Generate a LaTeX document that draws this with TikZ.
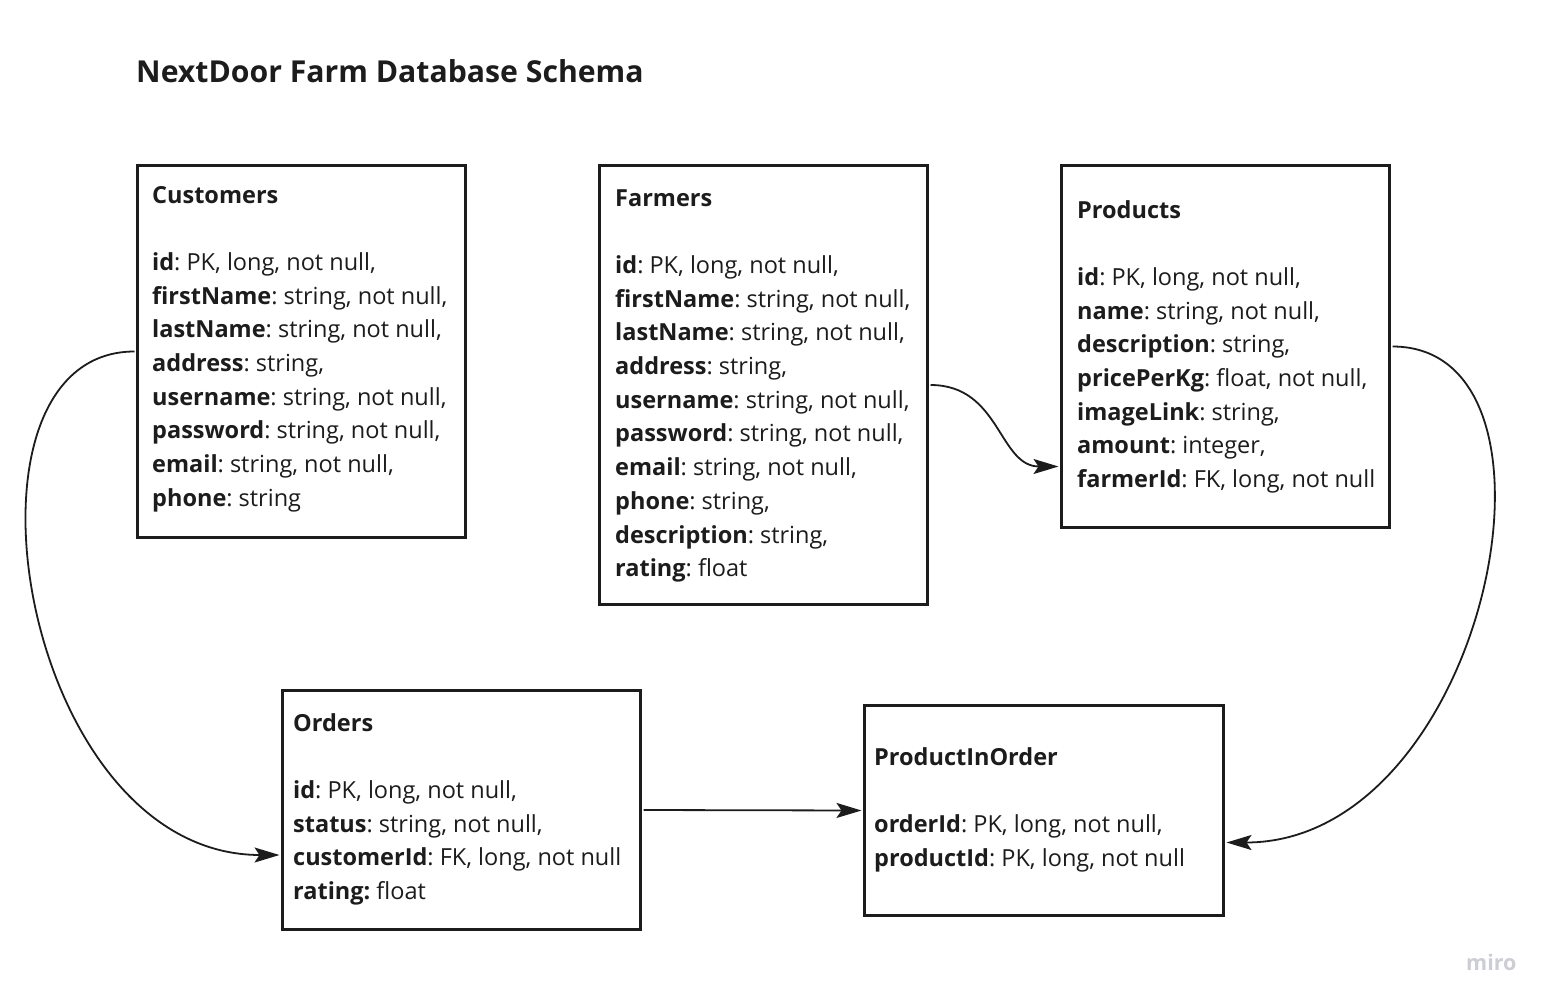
\documentclass[tikz,border=0pt]{standalone}
\usepackage{fontspec}
\setmainfont{Open Sans}
\usetikzlibrary{arrows.meta}
\definecolor{ink}{HTML}{1C1C1C}
\definecolor{mirogray}{HTML}{CDCDD6}
\frenchspacing
\tikzset{
  tablebox/.style={draw=ink, line width=3pt, inner sep=0pt, outer sep=0pt, anchor=north west},
  tabletext/.style={anchor=base west, inner sep=0pt, text=ink, font=\fontsize{23.5}{33.7}\selectfont},
  link/.style={draw=ink, line width=1.8pt, -{Stealth[length=25pt,width=15pt,inset=5pt]}}
}
\newcommand{\fld}[2]{\hbox{\textbf{#1}: #2}}
\newcommand{\rowsbox}[1]{\vtop{\baselineskip=33.7pt\lineskiplimit=-100pt #1}}
\begin{document}
\begin{tikzpicture}[x=1pt,y=-1pt]
\useasboundingbox (0,0) rectangle (1552,1006);
\fill[white] (0,0) rectangle (1552,1006);

\node[anchor=base west, inner sep=0pt, text=ink, font=\fontsize{30.2}{36}\selectfont\bfseries] (title) at (136,83) {NextDoor Farm Database Schema};

% boxes
\node[tablebox, minimum width=328pt, minimum height=372pt] (cust) at (137.5,165.5) {};
\node[tablebox, minimum width=328pt, minimum height=439pt] (farm) at (599.5,165.5) {};
\node[tablebox, minimum width=328pt, minimum height=362pt] (prod) at (1061.5,165.5) {};
\node[tablebox, minimum width=358pt, minimum height=239pt] (ords) at (282.5,690.5) {};
\node[tablebox, minimum width=359pt, minimum height=210pt] (pio) at (864.5,705.5) {};

% texts
\node[tabletext] (custtxt) at (152,203) {\rowsbox{%
\hbox{\textbf{Customers}}\hbox{}%
\fld{id}{PK, long, not null,}%
\fld{firstName}{string, not null,}%
\fld{lastName}{string, not null,}%
\fld{address}{string,}%
\fld{username}{string, not null,}%
\fld{password}{string, not null,}%
\fld{email}{string, not null,}%
\fld{phone}{string}}};

\node[tabletext] (farmtxt) at (615,206) {\rowsbox{%
\hbox{\textbf{Farmers}}\hbox{}%
\fld{id}{PK, long, not null,}%
\fld{firstName}{string, not null,}%
\fld{lastName}{string, not null,}%
\fld{address}{string,}%
\fld{username}{string, not null,}%
\fld{password}{string, not null,}%
\fld{email}{string, not null,}%
\fld{phone}{string,}%
\fld{description}{string,}%
\fld{rating}{float}}};

\node[tabletext] (prodtxt) at (1077,218) {\rowsbox{%
\hbox{\textbf{Products}}\hbox{}%
\fld{id}{PK, long, not null,}%
\fld{name}{string, not null,}%
\fld{description}{string,}%
\fld{pricePerKg}{float, not null,}%
\fld{imageLink}{string,}%
\fld{amount}{integer,}%
\fld{farmerId}{FK, long, not null}}};

\node[tabletext] (ordstxt) at (293,731) {\rowsbox{%
\hbox{\textbf{Orders}}\hbox{}%
\fld{id}{PK, long, not null,}%
\fld{status}{string, not null,}%
\fld{customerId}{FK, long, not null}%
\hbox{\textbf{rating:} float}}};

\node[tabletext] (piotxt) at (874,765) {\rowsbox{%
\hbox{\textbf{ProductInOrder}}\hbox{}%
\fld{orderId}{PK, long, not null,}%
\fld{productId}{PK, long, not null}}};

\node[anchor=base west, inner sep=0pt, text=mirogray, font=\fontsize{21.5}{24}\selectfont\bfseries] (miro) at (1466,970) {miro};

% connectors
\draw[link] ([xshift=-3pt]cust.west) .. controls +(-194,0) and +(-260,0) .. ([yshift=-45pt,xshift=-3pt]ords.west);
\draw[link] ([xshift=3pt]farm.east) .. controls +(70,0) and +(-60,0) .. ([yshift=-120pt,xshift=-3pt]prod.west);
\draw[link] ([xshift=3pt]ords.east) -- ([xshift=-3pt]pio.west);
\draw[link] ([xshift=3pt]prod.east) .. controls +(194,0) and +(260,0) .. ([yshift=-32pt,xshift=3pt]pio.east);
\end{tikzpicture}
\end{document}
